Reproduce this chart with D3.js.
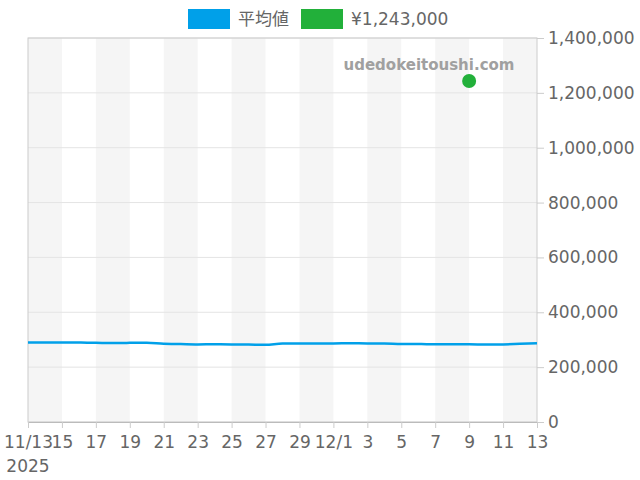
<!DOCTYPE html>
<html>
<head>
<meta charset="utf-8">
<script src="https://cdn.jsdelivr.net/npm/d3@7"></script>
<style>
  body { margin: 0; background: #fff; }
  svg text { font-family: "DejaVu Sans", "Noto Sans CJK JP", sans-serif; }
</style>
</head>
<body>
<div id="chart"></div>
<script>
// daily average prices, 2025-11-13 .. 2025-12-13
const startDate = "2025-11-13";
const avgValues = [
  290000, 290000, 290000, 289500, 288500, 288000, 288500, 288500,
  285000, 284000, 283000, 283500, 283000, 282500, 281500,
  286000, 286000, 286500, 286500, 287500, 286500, 286500,
  284000, 284000, 283500, 283500, 283500, 282500, 283000, 285000, 287000
];
const pointDate = "2025-12-09";
const pointValue = 1243000;
const yTicks = [0, 200000, 400000, 600000, 800000, 1000000, 1200000, 1400000];
const legendLabels = ["平均値", "¥1,243,000"];

const width = 640, height = 480;
const margin = { top: 38, right: 103, bottom: 58, left: 28 };
const parse = d3.timeParse("%Y-%m-%d");
const t0 = parse(startDate);
const data = avgValues.map((v, i) => ({ date: d3.timeDay.offset(t0, i), value: v }));

const svg = d3.select("#chart")
  .append("svg")
  .attr("width", width)
  .attr("height", height);

const x = d3.scaleTime()
  .domain([data[0].date, data[data.length - 1].date])
  .range([margin.left, width - margin.right]);

const y = d3.scaleLinear()
  .domain([0, 1400000])
  .range([height - margin.bottom, margin.top]);

// alternating stripes every 2 days
const stripeDays = d3.timeDay.every(1).range(data[0].date, data[data.length - 1].date)
  .filter((d, i) => i % 4 === 0);
svg.append("g")
  .selectAll("rect")
  .data(stripeDays)
  .enter()
  .append("rect")
  .attr("x", d => x(d))
  .attr("y", margin.top)
  .attr("width", d => x(d3.timeDay.offset(d, 2)) - x(d))
  .attr("height", y(0) - margin.top)
  .attr("fill", "#f5f5f5");

// horizontal grid
svg.append("g")
  .selectAll("line")
  .data(yTicks)
  .enter()
  .append("line")
  .attr("x1", margin.left)
  .attr("x2", width - margin.right)
  .attr("y1", d => y(d))
  .attr("y2", d => y(d))
  .attr("stroke", "#e4e4e4");

// frame
svg.append("rect")
  .attr("x", margin.left)
  .attr("y", margin.top)
  .attr("width", width - margin.right - margin.left)
  .attr("height", y(0) - margin.top)
  .attr("fill", "none")
  .attr("stroke", "#cccccc");

// right y axis
const yAxis = svg.append("g")
  .attr("transform", `translate(${width - margin.right},0)`)
  .call(d3.axisRight(y).tickValues(yTicks).tickSize(7).tickPadding(4).tickFormat(d3.format(",")));
yAxis.select(".domain").remove();
yAxis.selectAll("line").attr("stroke", "#cccccc");
yAxis.selectAll("text").attr("fill", "#666").style("font-size", "17px");

// bottom x axis
const xTicks = d3.timeDay.every(1).range(data[0].date, d3.timeDay.offset(data[data.length - 1].date, 1))
  .filter((d, i) => i % 2 === 0);
const fmt = d => {
  if (+d === +t0) return "11/13";
  if (d.getDate() === 1) return d3.timeFormat("%-m/%-d")(d);
  return d3.timeFormat("%-d")(d);
};
const xAxis = svg.append("g")
  .attr("transform", `translate(0,${y(0)})`)
  .call(d3.axisBottom(x).tickValues(xTicks).tickSize(6).tickPadding(8).tickFormat(fmt));
xAxis.select(".domain").attr("stroke", "#bbbbbb");
xAxis.selectAll("line").attr("stroke", "#cccccc");
xAxis.selectAll("text").attr("fill", "#666").style("font-size", "17px");

svg.append("text")
  .attr("x", x(t0))
  .attr("y", 472)
  .attr("text-anchor", "middle")
  .attr("fill", "#666")
  .style("font-size", "17px")
  .text("2025");

// watermark
svg.append("text")
  .attr("x", 429)
  .attr("y", 70)
  .attr("text-anchor", "middle")
  .attr("fill", "#a0a0a0")
  .style("font-size", "15px")
  .style("font-weight", "bold")
  .text("udedokeitoushi.com");

// average line
const line = d3.line()
  .x(d => x(d.date))
  .y(d => y(d.value))
  .curve(d3.curveMonotoneX);
svg.append("path")
  .datum(data)
  .attr("d", line)
  .attr("fill", "none")
  .attr("stroke", "#00a0e9")
  .attr("stroke-width", 2.5);

// single price point
svg.append("circle")
  .attr("cx", x(parse(pointDate)))
  .attr("cy", y(pointValue))
  .attr("r", 7)
  .attr("fill", "#22b03a");

// legend
const legendColors = ["#00a0e9", "#22b03a"];
const legendX = [188, 301];
const legend = svg.append("g")
  .selectAll("g")
  .data(legendLabels)
  .enter()
  .append("g")
  .attr("transform", (d, i) => `translate(${legendX[i]},9)`);
legend.append("rect")
  .attr("width", 42)
  .attr("height", 20)
  .attr("fill", (d, i) => legendColors[i]);
legend.append("text")
  .attr("x", 50)
  .attr("y", 16)
  .attr("fill", "#666")
  .style("font-size", "17px")
  .text(d => d);
</script>
</body>
</html>
